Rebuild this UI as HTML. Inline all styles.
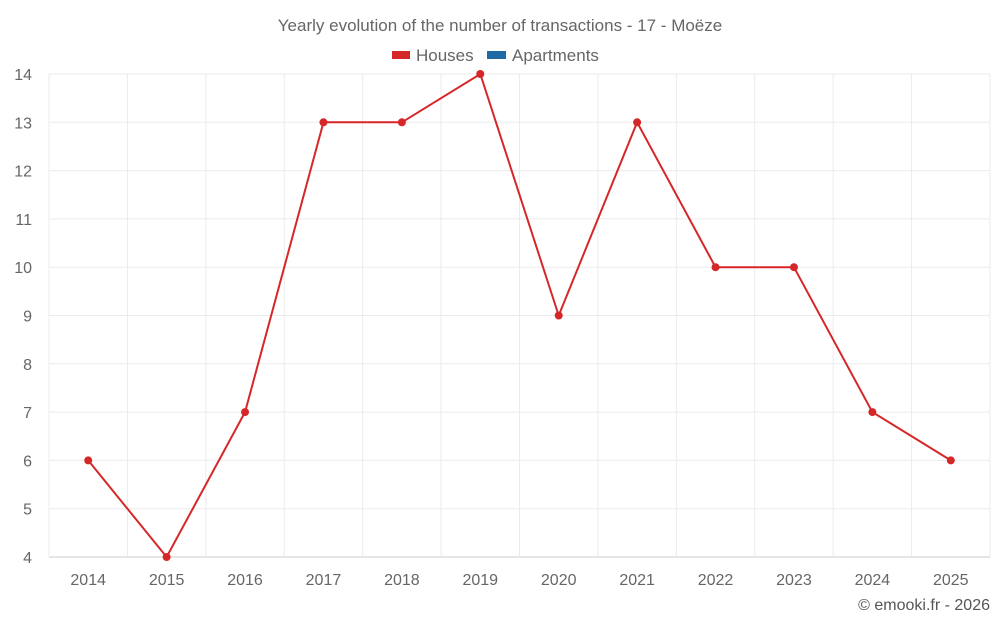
<!DOCTYPE html>
<html><head><meta charset="utf-8"><style>
body{margin:0;background:#fff;font-family:"Liberation Sans",sans-serif;}
svg text{font-family:"Liberation Sans",sans-serif;}
</style></head><body>
<svg id="chart" width="1000" height="625" xmlns="http://www.w3.org/2000/svg">
<text x="500" y="31" text-anchor="middle" font-size="17" fill="#666">Yearly evolution of the number of transactions - 17 - Moëze</text>
<g>
<rect x="392" y="51" width="18" height="8" fill="#d62728"/>
<text x="416" y="61" font-size="17" fill="#666">Houses</text>
<rect x="487" y="51" width="19" height="8" fill="#1f6aa5"/>
<text x="512" y="61" font-size="17" fill="#666">Apartments</text>
</g>
<g id="grid"></g><g id="axes"></g><g id="series"></g>
<text x="990" y="610" text-anchor="end" font-size="16" fill="#555">© emooki.fr - 2026</text>
</svg>
<script>
const categories=["2014","2015","2016","2017","2018","2019","2020","2021","2022","2023","2024","2025"];
const houses=[6,4,7,13,13,14,9,13,10,10,7,6];
const yTicks=[4,5,6,7,8,9,10,11,12,13,14];
const NS="http://www.w3.org/2000/svg";
const L=49,R=990,T=74,B=557,yMin=4,yMax=14;
const band=(R-L)/categories.length;
const xs=i=>L+band*(i+0.5);
const ys=v=>B-(v-yMin)/(yMax-yMin)*(B-T);
function mk(tag,attrs,parent){const e=document.createElementNS(NS,tag);for(const k in attrs)e.setAttribute(k,attrs[k]);document.getElementById(parent).appendChild(e);return e;}
yTicks.forEach(v=>{
 const g=mk('line',{x1:L,x2:R,y1:ys(v),y2:ys(v),stroke:v===yMin?'#ccc':'#ebebeb'},'grid');
 
 
 const t=mk('text',{x:32,y:ys(v)+6,'text-anchor':'end','font-size':16,fill:'#666'},'axes');
 t.textContent=v;
 
 
});
for(let i=0;i<=categories.length;i++){
 const g=mk('line',{x1:L+band*i,x2:L+band*i,y1:T,y2:B+(i===0?0:0),stroke:'#ebebeb'},'grid');
 
 
}
categories.forEach((c,i)=>{
 const t=mk('text',{x:xs(i),y:585,'text-anchor':'middle','font-size':16,fill:'#666'},'axes');
 t.textContent=c;
 
 
});
const p=mk('polyline',{points:houses.map((v,i)=>xs(i)+','+ys(v)).join(' '),fill:'none',stroke:'#d62728','stroke-width':2},'series');


houses.forEach((v,i)=>{
 const c=mk('circle',{cx:xs(i),cy:ys(v),r:4,fill:'#d62728'},'series');
 
 
});
</script>
</body></html>
